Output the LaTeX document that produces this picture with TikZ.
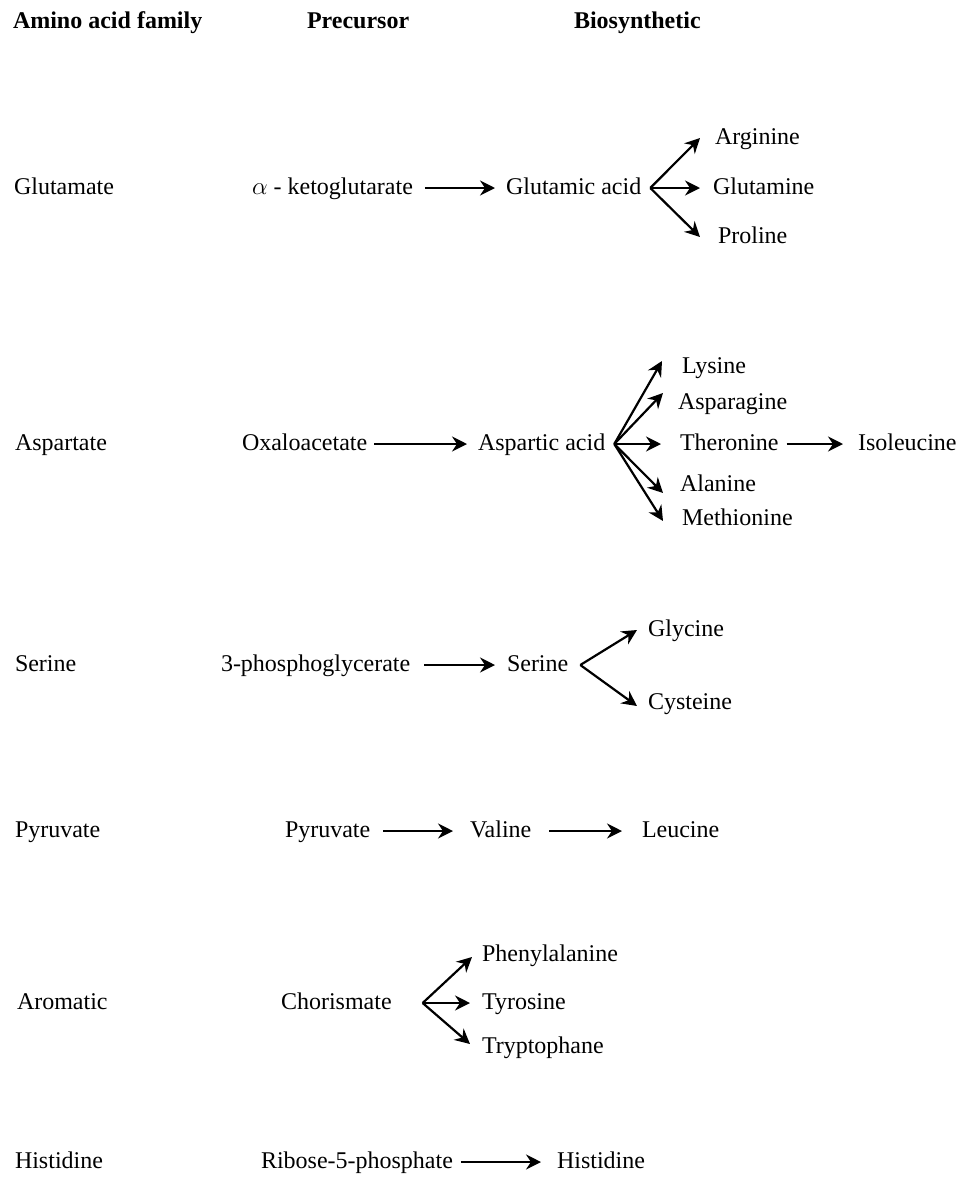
\documentclass[tikz,border=0pt]{standalone}
\usepackage{fontspec}
\setmainfont{Liberation Serif}
\usetikzlibrary{arrows.meta}
\tikzset{
  lbl/.style={inner sep=0pt, outer sep=0pt, anchor=west, font=\fontsize{24}{28}\selectfont,
              text height=17pt, text depth=5pt},
  hdr/.style={inner sep=0pt, outer sep=0pt, anchor=base west, font=\fontsize{24}{28}\selectfont\bfseries},
  arr/.style={line width=2.2pt, -{Stealth[length=15pt,width=15pt,inset=5pt]}},
}
\begin{document}
\begin{tikzpicture}[x=1pt,y=-1pt]
\useasboundingbox (0,0) rectangle (962,1186);

% column headings
\node[hdr] (h1) at (13,28) {Amino acid family};
\node[hdr] (h2) at (307,28) {Precursor};
\node[hdr] (h3) at (574,28) {Biosynthetic};

% glutamate family
\node[lbl] (f1) at (14,188) {Glutamate};
\node[lbl] (pre1) at (252,188) {$\alpha$ - ketoglutarate};
\node[lbl] (glu) at (506,188) {Glutamic acid};
\coordinate (v1) at ([xshift=9pt]glu.east);
\node[lbl] (arg) at (715,138) {Arginine};
\node[lbl] (gln) at (713,188) {Glutamine};
\node[lbl] (pro) at (718,237) {Proline};
\draw[arr] ([xshift=12pt]pre1.east) -- ([xshift=-11pt]glu.west);
\draw[arr] (v1) -- ([xshift=-15pt]arg.west);
\draw[arr] (v1) -- ([xshift=-13pt]gln.west);
\draw[arr] (v1) -- ([xshift=-18pt]pro.west);

% aspartate family
\node[lbl] (f2) at (15,444) {Aspartate};
\node[lbl] (pre2) at (242,444) {Oxaloacetate};
\node[lbl] (asp) at (478,444) {Aspartic acid};
\coordinate (v2) at ([xshift=9pt]asp.east);
\node[lbl] (lys) at (682,367) {Lysine};
\node[lbl] (asn) at (678,403) {Asparagine};
\node[lbl] (thr) at (680,444) {Theronine};
\node[lbl] (ala) at (680,485) {Alanine};
\node[lbl] (met) at (682,519) {Methionine};
\node[lbl] (ile) at (858,444) {Isoleucine};
\draw[arr] ([xshift=7pt]pre2.east) -- ([xshift=-11pt]asp.west);
\draw[arr] (v2) -- ([xshift=-20pt,yshift=6pt]lys.west);
\draw[arr] (v2) -- ([xshift=-15pt,yshift=10pt]asn.west);
\draw[arr] (v2) -- ([xshift=-19pt]thr.west);
\draw[arr] (v2) -- ([xshift=-17pt,yshift=-8pt]ala.west);
\draw[arr] (v2) -- ([xshift=-19pt,yshift=-2pt]met.west);
\draw[arr] ([xshift=8pt]thr.east) -- ([xshift=-15pt]ile.west);

% serine family
\node[lbl] (f3) at (15,665) {Serine};
\node[lbl] (pre3) at (221,665) {3-phosphoglycerate};
\node[lbl] (ser) at (507,665) {Serine};
\coordinate (v3) at ([xshift=12pt]ser.east);
\node[lbl] (gly) at (648,630) {Glycine};
\node[lbl] (cys) at (648,703) {Cysteine};
\draw[arr] ([xshift=14pt]pre3.east) -- ([xshift=-12pt]ser.west);
\draw[arr] (v3) -- ([xshift=-11pt]gly.west);
\draw[arr] (v3) -- ([xshift=-11pt,yshift=-3pt]cys.west);

% pyruvate family
\node[lbl] (f4) at (15,831) {Pyruvate};
\node[lbl] (pre4) at (285,831) {Pyruvate};
\node[lbl] (val) at (470,831) {Valine};
\node[lbl] (leu) at (642,831) {Leucine};
\draw[arr] ([xshift=13pt]pre4.east) -- ([xshift=-17pt]val.west);
\draw[arr] ([xshift=18pt]val.east) -- ([xshift=-20pt]leu.west);

% aromatic family
\node[lbl] (f5) at (17,1003) {Aromatic};
\node[lbl] (pre5) at (281,1003) {Chorismate};
\coordinate (v5) at ([xshift=31pt]pre5.east);
\node[lbl] (phe) at (482,955) {Phenylalanine};
\node[lbl] (tyr) at (482,1003) {Tyrosine};
\node[lbl] (trp) at (482,1047) {Tryptophane};
\draw[arr] (v5) -- ([xshift=-10pt,yshift=-2pt]phe.west);
\draw[arr] (v5) -- ([xshift=-12pt]tyr.west);
\draw[arr] (v5) -- ([xshift=-12pt,yshift=3pt]trp.west);

% histidine family
\node[lbl] (f6) at (15,1162) {Histidine};
\node[lbl] (pre6) at (261,1162) {Ribose-5-phosphate};
\node[lbl] (his) at (557,1162) {Histidine};
\draw[arr] ([xshift=8pt]pre6.east) -- ([xshift=-16pt]his.west);
\end{tikzpicture}
\end{document}
